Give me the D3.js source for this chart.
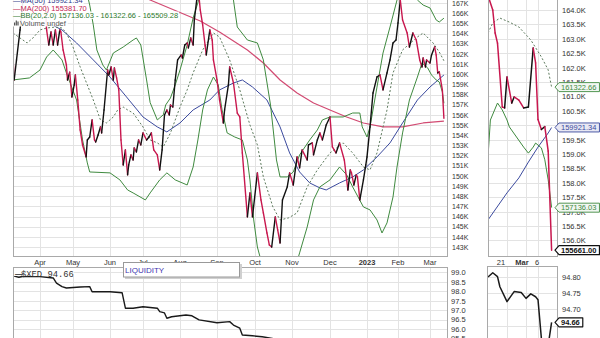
<!DOCTYPE html>
<html><head><meta charset="utf-8">
<script src="https://cdn.jsdelivr.net/npm/d3@7"></script>
<style>
html,body{margin:0;padding:0;background:#fff;}
svg{display:block;font-family:"Liberation Sans",Arial,sans-serif;}
</style></head><body>
<svg id="c" width="600" height="338"></svg>
<script>
// ---------------- DATA ----------------
// Main panel: closing price (thousands)
const closeDates = ["2022-03-09","2022-03-10","2022-03-12","2022-03-15","2022-03-18","2022-03-23","2022-03-28","2022-04-03","2022-04-06","2022-04-07",
"2022-04-09","2022-04-11","2022-04-13","2022-04-15","2022-04-17","2022-04-19","2022-04-20","2022-04-22","2022-04-25","2022-04-26",
"2022-04-28","2022-04-30","2022-05-02","2022-05-03","2022-05-05","2022-05-07","2022-05-09","2022-05-12","2022-05-13","2022-05-15",
"2022-05-17","2022-05-19","2022-05-20","2022-05-22","2022-05-24","2022-05-25","2022-05-27","2022-05-30","2022-05-31","2022-06-02",
"2022-06-04","2022-06-05","2022-06-07","2022-06-09","2022-06-11","2022-06-13","2022-06-15","2022-06-17","2022-06-18","2022-06-20",
"2022-06-22","2022-06-23","2022-06-25","2022-06-27","2022-06-29","2022-07-01","2022-07-04","2022-07-06","2022-07-08","2022-07-10",
"2022-07-13","2022-07-15","2022-07-17","2022-07-19","2022-07-21","2022-07-23","2022-07-24","2022-07-26","2022-07-28","2022-07-30",
"2022-08-02","2022-08-03","2022-08-05","2022-08-07","2022-08-08","2022-08-10","2022-08-12","2022-08-13","2022-08-15","2022-08-17",
"2022-08-18","2022-08-20","2022-08-22","2022-08-23","2022-08-26","2022-08-28","2022-08-29","2022-09-01","2022-09-03","2022-09-06",
"2022-09-07","2022-09-10","2022-09-11","2022-09-14","2022-09-17","2022-09-19","2022-09-21","2022-09-25","2022-09-27","2022-09-29",
"2022-10-03","2022-10-06","2022-10-08","2022-10-11","2022-10-13","2022-10-15","2022-10-18","2022-10-20","2022-10-22","2022-10-24",
"2022-10-28","2022-10-30","2022-11-02","2022-11-05","2022-11-07","2022-11-09","2022-11-13","2022-11-14","2022-11-17","2022-11-18",
"2022-11-21","2022-11-23","2022-11-25","2022-11-28","2022-12-01","2022-12-03","2022-12-06","2022-12-09","2022-12-13","2022-12-16",
"2022-12-18","2022-12-19","2022-12-21","2022-12-23","2022-12-24","2022-12-26","2022-12-29","2022-12-31","2023-01-01","2023-01-04",
"2023-01-07","2023-01-11","2023-01-14","2023-01-17","2023-01-21","2023-01-24","2023-01-27","2023-01-30","2023-02-01","2023-02-03",
"2023-02-05","2023-02-09","2023-02-11","2023-02-14","2023-02-17","2023-02-20","2023-02-22","2023-02-23","2023-02-25","2023-02-26",
"2023-03-01","2023-03-02","2023-03-04","2023-03-05","2023-03-06","2023-03-07","2023-03-09","2023-03-10"];
const closeK = [161.69,159.43,161.40,164.35,167.9,168.6,168.3,168.1,166.6,164.35,
162.87,164.15,162.87,164.35,162.87,164.35,164.15,162.38,160.90,159.43,
160.20,157.76,158.94,159.92,157.46,154.51,153.04,151.86,153.53,153.82,
155.50,153.53,153.33,154.02,154.81,154.22,156.48,160.41,159.92,160.71,
159.43,160.61,159.63,158.45,153.53,151.07,152.55,150.09,151.07,152.06,
151.56,152.75,152.35,153.53,153.04,154.22,153.53,153.82,154.22,152.55,
152.06,150.58,152.55,155.99,156.48,155.99,156.97,156.77,159.43,161.40,
161.89,161.59,162.87,163.07,162.58,163.56,162.87,165.33,167.29,167.5,
166.31,164.84,162.87,161.89,164.35,163.36,161.40,159.43,157.46,155.20,
156.48,158.94,160.71,159.13,156.18,155.79,152.25,145.96,148.32,145.96,
150.29,147.63,146.35,144.38,143.20,143.00,145.96,144.68,143.40,147.63,
148.91,150.29,149.10,151.86,150.78,152.55,151.56,153.04,153.24,152.06,
153.53,154.22,153.53,155.00,155.79,152.84,152.25,153.24,151.56,148.61,
150.58,150.29,149.10,150.09,149.89,147.63,149.60,151.07,151.86,154.81,
158.15,159.73,159.92,158.45,160.12,161.40,163.07,163.36,165.03,167.29,
165.33,164.05,162.67,164.05,163.36,161.40,160.71,161.59,160.71,161.40,
161.10,161.89,162.67,161.89,160.12,160.22,158.45,155.66];

const bbUpperK = [["2022-03-09",169.26],["2022-04-01",170.24],["2022-04-21",170.24],["2022-05-07",169.26],["2022-05-13",167.79],["2022-05-15",166.8],["2022-05-18",164.84],["2022-05-21",162.38],["2022-05-26",160.90],["2022-05-29",160.41],["2022-06-04",162.08],["2022-06-13",162.67],["2022-06-22",163.36],["2022-06-25",163.56],["2022-06-29",162.87],["2022-07-04",159.43],["2022-07-07",157.2],["2022-07-13",155.5],["2022-07-15",155.7],["2022-07-18",156.0],["2022-07-20",156.97],["2022-07-24",157.66],["2022-07-28",158.94],["2022-08-01",160.41],["2022-08-07",162.87],["2022-08-12",165.53],["2022-08-18",167.79],["2022-08-26",169.26],["2022-09-07",169.75],["2022-09-14",167.29],["2022-09-17",164.64],["2022-09-25",163.36],["2022-10-03",163.07],["2022-10-08",161.40],["2022-10-14",156.97],["2022-10-19",151.56],["2022-10-22",149.89],["2022-10-28",149.89],["2022-11-02",150.38],["2022-11-07",152.06],["2022-11-15",153.53],["2022-11-21",154.51],["2022-11-25",155.50],["2022-12-01",155.79],["2022-12-12",155.79],["2022-12-20",156.18],["2022-12-26",156.18],["2022-12-28",154.81],["2023-01-01",153.82],["2023-01-04",154.81],["2023-01-11",158.74],["2023-01-17",162.08],["2023-01-24",164.64],["2023-01-31",167.29],["2023-02-07",169.26],["2023-02-14",169.75],["2023-02-18",167.29],["2023-02-23",166.80],["2023-03-01",166.51],["2023-03-05",165.33],["2023-03-07",165.13],["2023-03-10",165.51]];
const bbLowerK = [["2022-03-09",159.43],["2022-03-23",159.63],["2022-04-01",160.41],["2022-04-07",161.69],["2022-04-13",162.38],["2022-04-21",161.40],["2022-04-25",160.12],["2022-05-04",157.46],["2022-05-09",153.53],["2022-05-13",151.27],["2022-05-15",150.38],["2022-06-01",150.29],["2022-06-10",149.60],["2022-06-17",148.61],["2022-06-22",148.32],["2022-07-03",147.63],["2022-07-07",148.32],["2022-07-15",149.60],["2022-07-21",150.29],["2022-07-28",149.60],["2022-08-07",149.10],["2022-08-12",150.87],["2022-08-16",153.53],["2022-08-20",156.48],["2022-08-24",158.45],["2022-08-29",159.72],["2022-09-02",158.94],["2022-09-05",156.48],["2022-09-09",154.22],["2022-09-15",153.82],["2022-09-21",153.53],["2022-09-25",151.56],["2022-09-27",149.60],["2022-09-30",145.66],["2022-10-03",143.0],["2022-10-07",141.24],["2022-10-14",139.27],["2022-10-26",139.27],["2022-11-03",140.75],["2022-11-07",142.42],["2022-11-13",144.97],["2022-11-18",147.63],["2022-11-23",148.91],["2022-12-01",149.60],["2022-12-09",150.87],["2022-12-15",150.09],["2022-12-20",148.91],["2022-12-29",146.94],["2023-01-04",146.65],["2023-01-11",145.66],["2023-01-16",144.38],["2023-01-21",145.37],["2023-01-27",147.92],["2023-01-31",150.87],["2023-02-05",154.22],["2023-02-11",157.46],["2023-02-18",159.72],["2023-02-22",161.10],["2023-02-27",160.61],["2023-03-02",159.92],["2023-03-05",159.43],["2023-03-07",159.23],["2023-03-09",158.25],["2023-03-10",157.14]];
const bbMiddleK = [["2022-03-09",164.05],["2022-03-15",163.56],["2022-03-21",163.07],["2022-03-26",163.56],["2022-04-01",164.35],["2022-04-07",164.54],["2022-04-15",164.64],["2022-04-21",164.54],["2022-04-25",164.05],["2022-05-01",162.67],["2022-05-07",160.71],["2022-05-13",158.94],["2022-05-18",157.46],["2022-05-24",155.50],["2022-05-29",155.20],["2022-06-04",155.79],["2022-06-08",156.48],["2022-06-13",156.77],["2022-06-17",156.48],["2022-06-22",156.18],["2022-07-01",154.81],["2022-07-07",153.53],["2022-07-13",153.24],["2022-07-18",152.84],["2022-07-24",154.22],["2022-08-01",156.77],["2022-08-07",158.45],["2022-08-12",160.12],["2022-08-20",162.38],["2022-08-29",164.05],["2022-09-03",163.66],["2022-09-11",161.40],["2022-09-19",158.45],["2022-09-27",155.0],["2022-10-03",153.04],["2022-10-08",149.89],["2022-10-16",146.94],["2022-10-22",145.66],["2022-10-29",145.86],["2022-11-05",146.35],["2022-11-13",148.91],["2022-11-21",150.58],["2022-12-01",152.25],["2022-12-12",153.24],["2022-12-20",152.25],["2022-12-29",150.87],["2023-01-04",150.58],["2023-01-11",152.25],["2023-01-21",156.48],["2023-01-27",160.12],["2023-02-05",162.38],["2023-02-18",163.66],["2023-02-23",164.05],["2023-03-03",163.07],["2023-03-07",162.18],["2023-03-10",161.32]];
const ma50K = [["2022-04-07",165.13],["2022-04-21",164.35],["2022-05-04",163.07],["2022-05-18",161.40],["2022-06-01",159.72],["2022-06-16",157.76],["2022-07-01",155.79],["2022-07-13",154.81],["2022-07-21",154.32],["2022-08-01",155.20],["2022-08-12",156.48],["2022-08-26",157.46],["2022-09-03",158.45],["2022-09-14",159.13],["2022-09-21",159.43],["2022-09-29",158.74],["2022-10-11",157.46],["2022-10-22",154.81],["2022-10-30",152.25],["2022-11-07",150.38],["2022-11-15",149.30],["2022-11-23",148.81],["2022-11-28",148.61],["2022-12-09",149.30],["2022-12-20",149.89],["2022-12-29",150.58],["2023-01-11",151.86],["2023-01-24",153.24],["2023-02-05",155.20],["2023-02-18",157.46],["2023-03-01",158.74],["2023-03-10",159.92]];
const ma200K = [["2022-06-28",167.79],["2022-07-07",167.29],["2022-07-29",166.22],["2022-08-18",165.23],["2022-09-03",164.15],["2022-09-25",162.38],["2022-10-08",161.10],["2022-10-22",159.43],["2022-11-05",158.15],["2022-11-18",157.17],["2022-12-01",156.48],["2022-12-15",155.79],["2022-12-29",155.20],["2023-01-17",154.81],["2023-02-05",154.81],["2023-02-23",155.20],["2023-03-10",155.38]];

// Right (recent) panel
const recentClose = [["2023-02-13",164.5],["2023-02-15",164.0],["2023-02-16",163.2],["2023-02-17",162.85],["2023-02-19",160.63],["2023-02-20",160.6],["2023-02-21",161.67],["2023-02-23",160.77],["2023-02-24",160.98],["2023-02-26",160.87],["2023-02-28",160.6],["2023-03-02",160.63],["2023-03-04",162.68],["2023-03-05",162.16],["2023-03-06",160.2],["2023-03-07",159.85],["2023-03-08",159.95],["2023-03-09",159.1],["2023-03-10",155.66]];
const recentBBMiddle = [["2023-02-13",163.2],["2023-02-15",163.55],["2023-02-18",163.72],["2023-02-22",163.58],["2023-02-26",163.41],["2023-03-03",162.96],["2023-03-07",162.37],["2023-03-09",161.92],["2023-03-10",161.32]];
const recentBBLower = [["2023-02-13",158.9],["2023-02-14",160.18],["2023-02-17",160.77],["2023-02-19",160.53],["2023-02-21",160.18],["2023-02-22",159.94],["2023-02-25",159.59],["2023-02-28",159.24],["2023-03-02",159.03],["2023-03-04",159.24],["2023-03-05",159.38],["2023-03-07",159.21],["2023-03-08",158.8],["2023-03-09",158.1],["2023-03-10",157.14]];
const recentMA50 = [["2023-02-13",156.71],["2023-02-21",157.65],["2023-02-26",158.17],["2023-03-02",158.72],["2023-03-06",159.24],["2023-03-09",159.73],["2023-03-10",159.92]];

// Lower panel: $XED
const xed = [["2022-03-10",98.80],["2022-03-14",98.74],["2022-03-18",98.79],["2022-04-01",98.77],["2022-04-13",98.70],["2022-04-16",98.43],["2022-04-21",98.24],["2022-04-25",98.17],["2022-05-07",98.22],["2022-05-15",98.24],["2022-05-17",97.97],["2022-06-01",97.97],["2022-06-12",97.92],["2022-06-15",97.10],["2022-06-22",97.10],["2022-07-01",97.18],["2022-07-13",97.10],["2022-07-15",96.92],["2022-07-19",96.85],["2022-07-21",96.57],["2022-07-25",96.65],["2022-08-06",96.74],["2022-08-11",96.70],["2022-08-17",96.48],["2022-09-01",96.33],["2022-09-11",96.39],["2022-09-14",96.21],["2022-09-19",96.04],["2022-09-21",95.68],["2022-09-29",95.64],["2022-10-07",95.59],["2022-10-20",95.45],["2022-11-10",95.30],["2022-12-01",95.15],["2022-12-20",95.00],["2023-01-15",94.90],["2023-02-10",94.80],["2023-03-01",94.73],["2023-03-10",94.66]];
const xedRecent = [["2023-02-13",94.80],["2023-02-15",94.813],["2023-02-17",94.801],["2023-02-18",94.77],["2023-02-21",94.724],["2023-02-24",94.755],["2023-02-27",94.752],["2023-03-01",94.734],["2023-03-03",94.748],["2023-03-05",94.739],["2023-03-06",94.73],["2023-03-07",94.61],["2023-03-08",94.58],["2023-03-09",94.59],["2023-03-10",94.66]];

// Legend / last values
const legendMA50 = 159921.34, legendMA200 = 155381.70;
const legendBB = [157136.03, 161322.66, 165509.28];
const lastClose = 155661.00, lastXED = 94.66;

// Axis ticks
const monthTickDates = ["2022-04-01","2022-05-01","2022-06-01","2022-07-01","2022-08-01","2022-09-01","2022-10-01","2022-11-01","2022-12-01","2023-01-01","2023-02-01","2023-03-01"];
const monthTickLabels = ["Apr","May","Jun","Jul","Aug","Sep","Oct","Nov","Dec","2023","Feb","Mar"];
const recentTickDates = ["2023-02-21","2023-03-01","2023-03-06"];
const recentTickLabels = ["21","Mar","6"];
const mainYTicks = d3.range(143, 168, 1);
const recentYTicks = d3.range(156, 164.01, 0.5);
const xedYTicks = d3.range(95.5, 99.01, 0.5);
const xedRecentTicks = [94.65, 94.70, 94.75, 94.80];

// ---------------- DRAW ----------------
const parse = d3.timeParse("%Y-%m-%d");
const pts = arr => arr.map(([d,v]) => ({d: parse(d), v}));
const closePts = closeDates.map((d,i) => ({d: parse(d), v: closeK[i]}));
const svg = d3.select("#c");
const UP = "#111111", DOWN = "#c8174e";
const GRID = "#e3e3e3", BORDER = "#a9a9a9", LABEL = "#333";

// scales (piecewise time scale follows the chart's trading-day month spacing)
const xMain = d3.scaleTime()
  .domain(["2022-03-09"].concat(monthTickDates, ["2023-03-12"]).map(parse))
  .range([13,40,73,110,143,180,217,255,292,330,367,398,430,447]);
const yMain = d3.scaleLinear().domain([143,167]).range([247,3]);
const xRec = d3.scaleTime()
  .domain(["2023-02-13","2023-02-21","2023-03-01","2023-03-06","2023-03-11"].map(parse))
  .range([488,507,526,538,555]);
const yRec = d3.scaleLinear().domain([156,164]).range([240.4,10]);
const yXed = d3.scaleLinear().domain([95.5,99]).range([338.45,272.3]);
const yXedR = d3.scaleLinear().domain([94.65,94.80]).range([325.6,277]);

const P = {
  main:{x0:13,x1:447,y0:-1,y1:256},
  rec:{x0:488,x1:557,y0:-1,y1:256},
  xed:{x0:13,x1:447,y0:267,y1:345},
  xedR:{x0:487,x1:557,y0:266,y1:345}
};
const defs = svg.append("defs");
Object.entries(P).forEach(([k,p]) => {
  defs.append("clipPath").attr("id","clip-"+k).append("rect")
    .attr("x",p.x0).attr("y",p.y0).attr("width",p.x1-p.x0).attr("height",p.y1-p.y0);
});

function grid(p, xs, ys, x, y){
  const g = svg.append("g");
  g.selectAll(null).data(ys).join("line")
    .attr("x1",p.x0).attr("x2",p.x1).attr("y1",d=>Math.round(y(d))+0.5).attr("y2",d=>Math.round(y(d))+0.5)
    .attr("stroke",GRID).attr("stroke-width",1);
  g.selectAll(null).data(xs).join("line")
    .attr("y1",Math.max(p.y0,0)).attr("y2",p.y1).attr("x1",d=>Math.round(x(d))+0.5).attr("x2",d=>Math.round(x(d))+0.5)
    .attr("stroke",GRID).attr("stroke-width",1);
}
function border(p){
  svg.append("rect").attr("x",p.x0+0.5).attr("y",p.y0+0.5).attr("width",p.x1-p.x0).attr("height",p.y1-p.y0)
    .attr("fill","none").attr("stroke",BORDER).attr("stroke-width",1);
}
function series(k, data, x, y, color, w, dash){
  const line = d3.line().x(p=>x(p.d)).y(p=>y(p.v));
  svg.append("path").attr("clip-path",`url(#clip-${k})`).datum(data)
    .attr("d",line).attr("fill","none").attr("stroke",color).attr("stroke-width",w)
    .attr("stroke-dasharray",dash||null).attr("stroke-linejoin","round");
}
function price(k, data, x, y, w){
  const line = d3.line().x(p=>x(p.d)).y(p=>y(p.v));
  svg.append("g").attr("clip-path",`url(#clip-${k})`)
    .selectAll(null).data(d3.pairs(data)).join("path")
    .attr("d",pr=>line(pr)).attr("fill","none")
    .attr("stroke",pr=>pr[1].v>=pr[0].v?UP:DOWN)
    .attr("stroke-width",w).attr("stroke-linecap","round");
}
function yLabels(ticks, y, xPos, fmt, size){
  const ax = d3.axisRight(y).tickValues(ticks).tickFormat(fmt).tickSize(0).tickPadding(0);
  const g = svg.append("g").attr("transform",`translate(${xPos},0)`).call(ax);
  g.select(".domain").remove();
  g.selectAll("text").attr("fill",LABEL).style("font-size",size+"px").style("font-family",'"Liberation Sans",Arial,sans-serif');
}
function tag(x0, yv, text, color, fill, bold){
  const g = svg.append("g");
  const t = g.append("text").attr("x",x0+6).attr("y",yv+2.7).text(text)
    .attr("fill",color).style("font-size","7.5px").style("font-weight",bold?"bold":"normal");
  const w = t.node().getComputedTextLength()+9;
  g.insert("path","text").attr("d",`M${x0},${yv} L${x0+4},${yv-4.5} L${x0+w},${yv-4.5} L${x0+w},${yv+4.5} L${x0+4},${yv+4.5} Z`)
    .attr("fill",fill).attr("stroke",color).attr("stroke-width",bold?1.2:0.9).attr("stroke-linejoin","round");
}

const monthDates = monthTickDates.map(parse);
const recDates = recentTickDates.map(parse);

// grids
grid(P.main, monthDates, mainYTicks, xMain, yMain);
grid(P.rec, recDates, recentYTicks, xRec, yRec);
grid(P.xed, monthDates, xedYTicks, xMain, yXed);
grid(P.xedR, recDates, xedRecentTicks, xRec, yXedR);

// main panel series
series("main", pts(ma200K), xMain, yMain, "#d24a72", 1.2);
series("main", pts(ma50K), xMain, yMain, "#3b4a9e", 1);
series("main", pts(bbUpperK), xMain, yMain, "#3f8a3f", 1);
series("main", pts(bbLowerK), xMain, yMain, "#3f8a3f", 1);
series("main", pts(bbMiddleK), xMain, yMain, "#5d7a5d", 1, "2,2");
price("main", closePts, xMain, yMain, 1.4);

// right panel series
series("rec", pts(recentMA50), xRec, yRec, "#3b4a9e", 1);
series("rec", pts(recentBBLower), xRec, yRec, "#3f8a3f", 1);
series("rec", pts(recentBBMiddle), xRec, yRec, "#5d7a5d", 1, "2,2");
price("rec", pts(recentClose), xRec, yRec, 1.5);

// XED panels
series("xed", pts(xed), xMain, yXed, "#1a1a1a", 1.4);
series("xedR", pts(xedRecent), xRec, yXedR, "#1a1a1a", 1.5);

// borders
Object.values(P).forEach(border);

// y labels
yLabels(mainYTicks, yMain, 452, d=>d+"K", 7);
yLabels(recentYTicks, yRec, 562, d=>d3.format(".1f")(d)+"K", 7.5);
yLabels(xedYTicks, yXed, 451, d3.format(".1f"), 7.5);
yLabels(xedRecentTicks.filter(d=>d>94.66), yXedR, 562, d3.format(".2f"), 7.5);

// x labels
svg.append("g").selectAll(null).data(monthDates).join("text")
  .attr("x",d=>xMain(d)).attr("y",265).attr("text-anchor","middle")
  .text((d,i)=>monthTickLabels[i]).attr("fill",LABEL)
  .style("font-size","7.5px").style("font-weight",(d,i)=>monthTickLabels[i]==="2023"?"bold":"normal");
const recOffsets = [-6,-4,-1];
svg.append("g").selectAll(null).data(recDates).join("text")
  .attr("x",(d,i)=>xRec(d)+recOffsets[i]).attr("y",265).attr("text-anchor","middle")
  .text((d,i)=>recentTickLabels[i]).attr("fill",LABEL)
  .style("font-size","7.5px").style("font-weight",(d,i)=>recentTickLabels[i]==="Mar"?"bold":"normal");

// value tags (right panel)
tag(555, yRec(legendBB[1]/1000), d3.format(".2f")(legendBB[1]), "#3f8a3f", "#f2f7f2", false);
tag(555, yRec(legendMA50/1000), d3.format(".2f")(legendMA50), "#3b4a9e", "#e8e8f3", false);
tag(555, yRec(legendBB[0]/1000), d3.format(".2f")(legendBB[0]), "#3f8a3f", "#f2f7f2", false);
tag(555, yRec(lastClose/1000), d3.format(".2f")(lastClose), "#111", "#fff", true);
tag(555, yXedR(lastXED), d3.format(".2f")(lastXED), "#111", "#fff", true);

// legend (top-left) with white backing
const legendItems = [
  {t:"\u2014MA(50) "+d3.format(".2f")(legendMA50), c:"#2d3a8c", y:3},
  {t:"\u2014MA(200) "+d3.format(".2f")(legendMA200), c:"#c41e52", y:10.5},
  {t:"\u2014BB(20,2.0) "+legendBB.map(d3.format(".2f")).join(" - "), c:"#2e7a2e", y:18},
  {t:"Volume undef", c:"#555", y:25.5, icon:true}
];
const lg = svg.append("g");
legendItems.forEach(it => {
  const x = it.icon ? 20 : 13;
  const t = lg.append("text").attr("x",x).attr("y",it.y).text(it.t).attr("fill",it.c).style("font-size","7.5px");
  const b = t.node().getBBox();
  lg.insert("rect","text").attr("x",13).attr("y",it.y-6.5).attr("width",b.x+b.width-13+1).attr("height",7.5)
    .attr("fill","#fff").attr("opacity",0.9);
  if (it.icon) {
    [[14,3],[15.7,5],[17.4,4]].forEach(([bx,h]) => lg.append("rect").attr("x",bx).attr("y",it.y-h).attr("width",1.2).attr("height",h).attr("fill","#555"));
  }
});

// XED legend
const xl = svg.append("g");
xl.append("rect").attr("x",14).attr("y",268).attr("width",60).attr("height",8).attr("fill","#fff").attr("opacity",0.9);
xl.append("text").attr("x",15).attr("y",276).text("\u2014").attr("fill","#222").style("font-size","8px").style("font-weight","bold");
xl.append("text").attr("x",21).attr("y",276.5).text("$XED "+d3.format(".2f")(lastXED)).attr("fill","#333")
  .style("font-size","8.8px").style("font-family",'"Liberation Mono","DejaVu Sans Mono",monospace');

// LIQUIDITY annotation box
svg.append("rect").attr("x",125).attr("y",264).attr("width",117).attr("height",15).attr("fill","#d0d0d0");
svg.append("rect").attr("x",123.5).attr("y",262.5).attr("width",116).attr("height",14.5).attr("fill","#fff").attr("stroke","#999");
svg.append("text").attr("x",125).attr("y",273).text("LIQUIDITY").attr("fill","#4338b0").style("font-size","8px");
</script>
</body></html>
